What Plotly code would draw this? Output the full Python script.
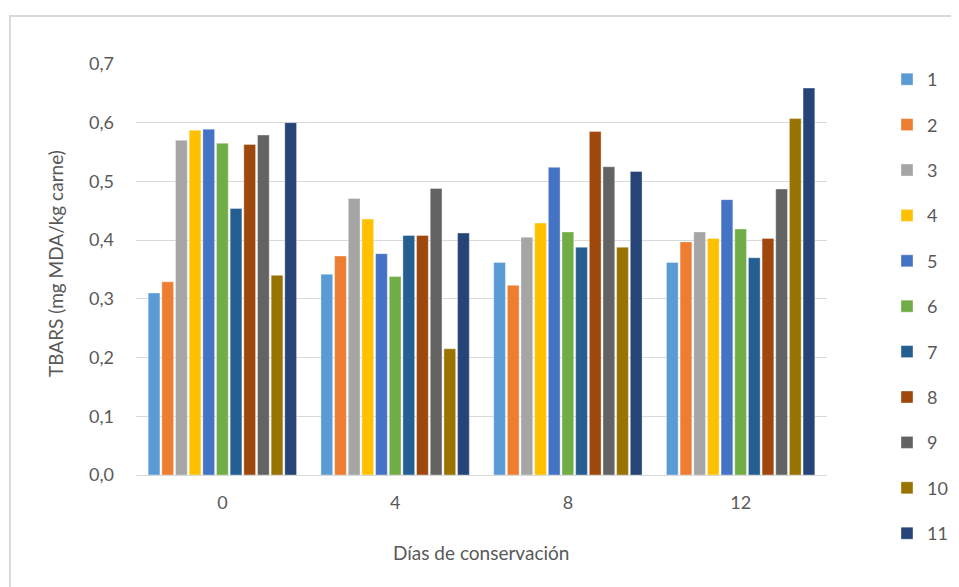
import plotly.graph_objects as go

categories = ["0", "4", "8", "12"]
series_names = ["1", "2", "3", "4", "5", "6", "7", "8", "9", "10", "11"]
s1 = [0.310, 0.342, 0.362, 0.362]
s2 = [0.329, 0.373, 0.323, 0.397]
s3 = [0.570, 0.471, 0.405, 0.414]
s4 = [0.587, 0.436, 0.429, 0.403]
s5 = [0.589, 0.377, 0.524, 0.469]
s6 = [0.565, 0.338, 0.414, 0.419]
s7 = [0.454, 0.408, 0.388, 0.370]
s8 = [0.563, 0.408, 0.585, 0.403]
s9 = [0.579, 0.488, 0.525, 0.487]
s10 = [0.340, 0.215, 0.388, 0.607]
s11 = [0.600, 0.412, 0.517, 0.659]
series_values = [s1, s2, s3, s4, s5, s6, s7, s8, s9, s10, s11]
colors = ["#5B9BD5", "#ED7D31", "#A5A5A5", "#FFC000", "#4472C4", "#70AD47",
          "#255E91", "#9E480E", "#636363", "#997300", "#264478"]
y_ticks = [0.0, 0.1, 0.2, 0.3, 0.4, 0.5, 0.6, 0.7]
y_ticklabels = ["0,0", "0,1", "0,2", "0,3", "0,4", "0,5", "0,6", "0,7"]

fig = go.Figure()
for name, vals, col in zip(series_names, series_values, colors):
    fig.add_trace(go.Bar(
        x=categories, y=vals, name=name, legendgroup=name,
        marker=dict(color=col, line=dict(color="rgba(255,255,255,0.6)", width=0.6)),
    ))

font_family = "Lato, Open Sans, sans-serif"
grey = "#595959"

# page body has an 8px margin; work in screen pixels and convert
OFF = 8
W, H = 959 - OFF, 587 - OFF
L, T = 136 - OFF, 64 - OFF
R = 959 - 827
B = 587 - 475
pw, ph = W - L - R, H - T - B

def px_x(x):
    return (x - OFF - L) / pw

def px_y(y):
    return (H - B - (y - OFF)) / ph

fig.update_layout(
    width=W, height=H,
    barmode="group", bargap=0.13, bargroupgap=0.14,
    paper_bgcolor="white", plot_bgcolor="white",
    margin=dict(l=L, r=R, t=T, b=B, autoexpand=False),
    font=dict(family=font_family, size=18, color=grey),
    xaxis=dict(
        type="category", automargin=False,
        showgrid=False, showline=True, linecolor="#d9d9d9", linewidth=1,
        ticks="", tickfont=dict(size=18, color=grey), ticklabelstandoff=11,
    ),
    yaxis=dict(
        range=[0, 0.7], tickvals=y_ticks, ticktext=y_ticklabels, automargin=False,
        showgrid=True, gridcolor="#d9d9d9", gridwidth=1,
        zeroline=False, showline=False, ticks="",
        tickfont=dict(size=18, color=grey), ticklabelstandoff=21,
    ),
    legend=dict(
        x=px_x(887), y=px_y(61), xanchor="left", yanchor="top",
        font=dict(size=18, color=grey),
        tracegroupgap=19, itemwidth=30, maxheight=540,
        bgcolor="rgba(0,0,0,0)",
    ),
    annotations=[
        dict(text="Días de conservación", xref="paper", yref="paper",
             x=px_x(481), y=px_y(552), xanchor="center", yanchor="middle",
             showarrow=False, font=dict(size=19, color=grey)),
        dict(text="TBARS (mg MDA/kg carne)", xref="paper", yref="paper",
             x=px_x(56), y=px_y(264), xanchor="center", yanchor="middle",
             textangle=-90, showarrow=False, font=dict(size=19, color=grey)),
    ],
    shapes=[dict(
        type="rect", xref="paper", yref="paper",
        x0=px_x(10), x1=px_x(1000), y0=px_y(640), y1=px_y(16),
        line=dict(color="#d9d9d9", width=2), fillcolor="rgba(0,0,0,0)", layer="below",
    )],
)

fig.write_html("out.html")
